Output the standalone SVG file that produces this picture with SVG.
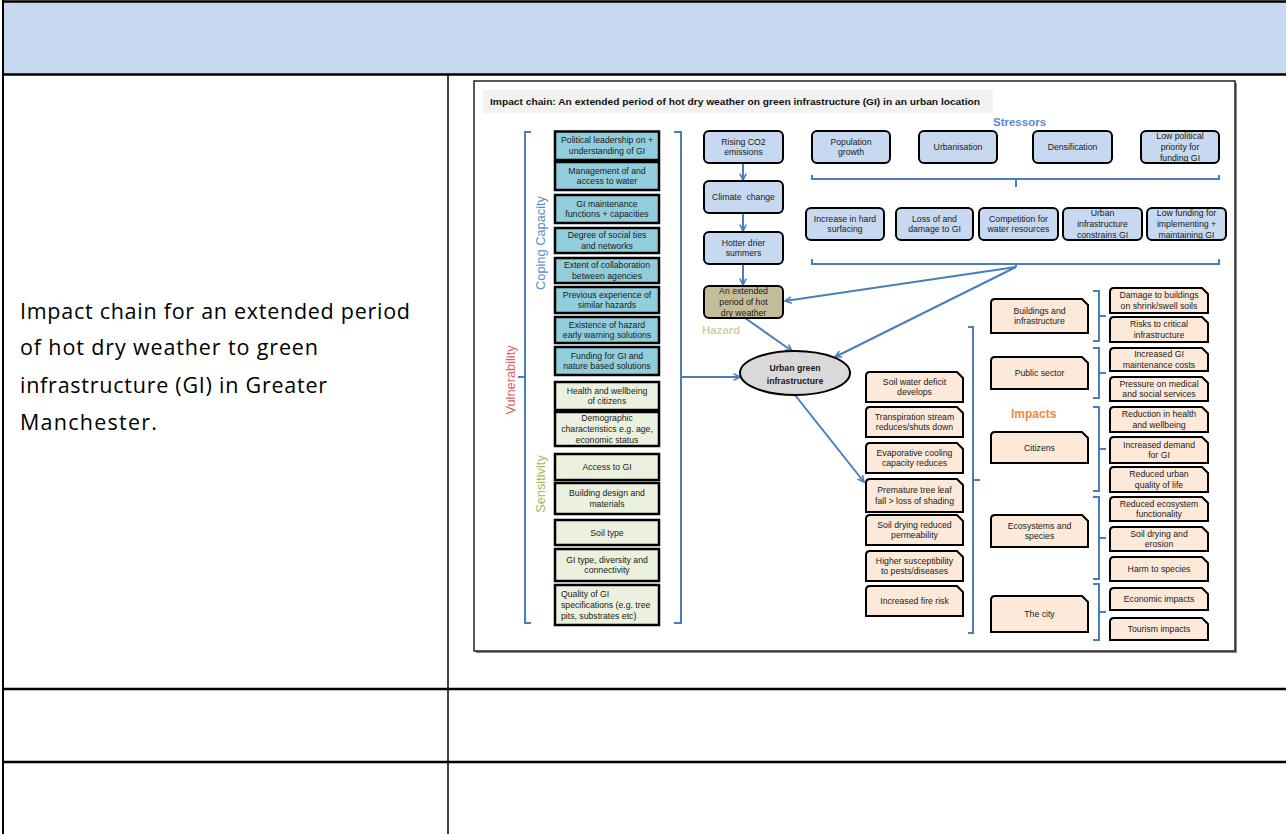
<svg xmlns="http://www.w3.org/2000/svg" width="1286" height="834" viewBox="0 0 1286 834">
<defs>
<style>
.tl{stroke:#000;fill:none}
.cc{fill:#92CDDC;stroke:#000;stroke-width:2.5}
.sn{fill:#EBF1DE;stroke:#000;stroke-width:2.5}
.bl{fill:#C6D9F0;stroke:#000;stroke-width:2}
.hz{fill:#C4BD97;stroke:#000;stroke-width:2}
.pe{fill:#FDE9D9;stroke:#000;stroke-width:2}
.t{font-family:"Liberation Sans",Arial,sans-serif;font-size:8.7px;fill:#1a1a1a;text-anchor:middle}
.tlft{text-anchor:start}
.conn{stroke:#4A7EBB;stroke-width:2;fill:none}
.lab{font-family:"Liberation Sans",Arial,sans-serif;font-weight:bold}
.side{font-family:"Liberation Sans",Arial,sans-serif;text-anchor:middle;font-size:12.8px}
</style>
<marker id="arr" viewBox="0 0 10 10" refX="9" refY="5" markerWidth="8" markerHeight="8" markerUnits="userSpaceOnUse" orient="auto">
<path d="M1,1 L9,5 L1,9" fill="none" stroke="#4A7EBB" stroke-width="2"/>
</marker>
</defs>

<g id="table">
<rect x="3" y="2" width="1283" height="72" fill="#C6D9F0"/>
<path class="tl" stroke-width="2.5" d="M2,1.5 H1286 M2,74.5 H1286 M2,689 H1286 M2,762 H1286"/>
<path class="tl" stroke-width="2" d="M3,0 V834"/>
<path class="tl" stroke-width="1.5" d="M448,75 V834"/>
</g>

<g id="caption" font-family="'Open Sans','Liberation Sans',sans-serif" font-size="21.5" fill="#000">
<text x="20" y="319" textLength="390" lengthAdjust="spacing">Impact chain for an extended period</text>
<text x="20" y="355" textLength="298" lengthAdjust="spacing">of hot dry weather to green</text>
<text x="20" y="393" textLength="307" lengthAdjust="spacing">infrastructure (GI) in Greater</text>
<text x="20" y="430" textLength="137" lengthAdjust="spacing">Manchester.</text>
</g>

<g id="frame">
<rect x="476" y="83" width="761" height="570" fill="#888"/>
<rect x="474" y="81" width="761" height="570" fill="#fff" stroke="#222" stroke-width="1.5"/>
<rect x="483" y="90" width="510" height="23" fill="#F2F2F2"/>
<text class="lab" x="490" y="105" font-size="9.5" fill="#111" textLength="490" lengthAdjust="spacingAndGlyphs">Impact chain: An extended period of hot dry weather on green infrastructure (GI) in an urban location</text>
</g>

<g id="labels">
<text class="lab" x="993" y="126" font-size="11.5" fill="#5B8CC9">Stressors</text>
<text class="lab" x="1011" y="418" font-size="12" fill="#F0883E">Impacts</text>
<text class="lab" x="702" y="334" font-size="11.5" fill="#D8CFA8">Hazard</text>
<text class="side" transform="translate(515,380) rotate(-90)" fill="#D9605C" font-size="13">Vulnerability</text>
<text class="side" transform="translate(545,243) rotate(-90)" fill="#5B8CC9">Coping Capacity</text>
<text class="side" transform="translate(545,484) rotate(-90)" fill="#9BBB59">Sensitivity</text>
</g>

<g id="connectors">
<path class="conn" d="M531,132 H525 V623 H531 M525,377 H518"/>
<path class="conn" d="M674,132 H681 V623 H674"/>
<path class="conn" marker-end="url(#arr)" d="M681,377 H740"/>
<path class="conn" d="M812,175 V179 H1219 V175 M1016,179 V187"/>
<path class="conn" d="M812,259 V264 H1219 V259 M1016,264 V267"/>
<path class="conn" marker-end="url(#arr)" d="M1016,267 L785,301"/>
<path class="conn" marker-end="url(#arr)" d="M1016,267 L835,357"/>
<path class="conn" marker-end="url(#arr)" d="M743,163 V180"/>
<path class="conn" marker-end="url(#arr)" d="M743,213 V231"/>
<path class="conn" marker-end="url(#arr)" d="M743,264 V285"/>
<path class="conn" marker-end="url(#arr)" d="M745,318 L792,351"/>
<path class="conn" marker-end="url(#arr)" d="M795,395 L864,482"/>
<path class="conn" d="M968,327 H973 V633 H968 M973,480 H980"/>
<path class="conn" d="M1093,291 H1099 V341 H1093 M1099,316 H1106"/>
<path class="conn" d="M1093,348 H1099 V398 H1093 M1099,373 H1106"/>
<path class="conn" d="M1093,407 H1099 V491 H1093 M1099,449 H1106"/>
<path class="conn" d="M1093,497 H1099 V579 H1093 M1099,538 H1106"/>
<path class="conn" d="M1093,584 H1099 V640 H1093 M1099,612 H1106"/>
</g>

<g id="coping">
<g id="c1"><rect class="cc" x="555" y="131.5" width="104" height="28.5"/><text class="t"><tspan x="607" y="143.4">Political leadership on +</tspan><tspan x="607" y="154.2">understanding of GI</tspan></text></g>
<g id="c2"><rect class="cc" x="555" y="162" width="104" height="28"/><text class="t"><tspan x="607" y="173.6">Management of and</tspan><tspan x="607" y="184.4">access to water</tspan></text></g>
<g id="c3"><rect class="cc" x="555" y="195" width="104" height="28"/><text class="t"><tspan x="607" y="206.6">GI maintenance</tspan><tspan x="607" y="217.4">functions + capacities</tspan></text></g>
<g id="c4"><rect class="cc" x="555" y="228" width="104" height="25"/><text class="t"><tspan x="607" y="238.1">Degree of social ties</tspan><tspan x="607" y="248.9">and networks</tspan></text></g>
<g id="c5"><rect class="cc" x="555" y="258" width="104" height="25"/><text class="t"><tspan x="607" y="268.1">Extent of collaboration</tspan><tspan x="607" y="278.9">between agencies</tspan></text></g>
<g id="c6"><rect class="cc" x="555" y="287" width="104" height="26"/><text class="t"><tspan x="607" y="297.6">Previous experience of</tspan><tspan x="607" y="308.4">similar hazards</tspan></text></g>
<g id="c7"><rect class="cc" x="555" y="317" width="104" height="26"/><text class="t"><tspan x="607" y="327.6">Existence of hazard</tspan><tspan x="607" y="338.4">early warning solutions</tspan></text></g>
<g id="c8"><rect class="cc" x="555" y="347" width="104" height="28"/><text class="t"><tspan x="607" y="358.6">Funding for GI and</tspan><tspan x="607" y="369.4">nature based solutions</tspan></text></g>
</g>

<g id="sensitivity">
<g id="s1"><rect class="sn" x="555" y="382" width="104" height="28"/><text class="t"><tspan x="607" y="393.6">Health and wellbeing</tspan><tspan x="607" y="404.4">of citizens</tspan></text></g>
<g id="s2"><rect class="sn" x="555" y="412" width="104" height="34"/><text class="t"><tspan x="607" y="421.2">Demographic</tspan><tspan x="607" y="432">characteristics e.g. age,</tspan><tspan x="607" y="442.8">economic status</tspan></text></g>
<g id="s3"><rect class="sn" x="555" y="454" width="104" height="26"/><text class="t" x="607" y="470">Access to GI</text></g>
<g id="s4"><rect class="sn" x="555" y="483" width="104" height="31"/><text class="t"><tspan x="607" y="496.1">Building design and</tspan><tspan x="607" y="506.9">materials</tspan></text></g>
<g id="s5"><rect class="sn" x="555" y="520" width="104" height="25"/><text class="t" x="607" y="535.5">Soil type</text></g>
<g id="s6"><rect class="sn" x="555" y="549" width="104" height="32"/><text class="t"><tspan x="607" y="562.6">GI type, diversity and</tspan><tspan x="607" y="573.4">connectivity</tspan></text></g>
<g id="s7"><rect class="sn" x="555" y="585" width="104" height="40"/><text class="t tlft"><tspan x="561" y="597.2">Quality of GI</tspan><tspan x="561" y="608">specifications (e.g. tree</tspan><tspan x="561" y="618.8">pits, substrates etc)</tspan></text></g>
</g>

<g id="climate">
<g id="cl1"><rect class="bl" x="704" y="131" width="79" height="32" rx="5"/><text class="t"><tspan x="743.5" y="144.6">Rising CO2</tspan><tspan x="743.5" y="155.4">emissions</tspan></text></g>
<g id="cl2"><rect class="bl" x="704" y="181" width="79" height="32" rx="5"/><text class="t" x="743.5" y="200" style="white-space:pre">Climate  change</text></g>
<g id="cl3"><rect class="bl" x="704" y="232" width="79" height="32" rx="5"/><text class="t"><tspan x="743.5" y="245.6">Hotter drier</tspan><tspan x="743.5" y="256.4">summers</tspan></text></g>
<g id="hazard"><rect class="hz" x="704" y="286" width="79" height="32" rx="5"/><text class="t"><tspan x="743.5" y="294.2">An extended</tspan><tspan x="743.5" y="305">period of hot</tspan><tspan x="743.5" y="315.8">dry weather</tspan></text></g>
</g>

<g id="ugi"><ellipse cx="795" cy="373" rx="55" ry="22" fill="#D9D9D9" stroke="#000" stroke-width="2"/><text class="t lab" font-size="10"><tspan x="795" y="371">Urban green</tspan><tspan x="795" y="384">infrastructure</tspan></text></g>

<g id="stressors">
<g id="st1"><rect class="bl" x="812" y="131" width="78" height="32" rx="5"/><text class="t"><tspan x="851" y="144.6">Population</tspan><tspan x="851" y="155.4">growth</tspan></text></g>
<g id="st2"><rect class="bl" x="919" y="131" width="78" height="32" rx="5"/><text class="t" x="958" y="150">Urbanisation</text></g>
<g id="st3"><rect class="bl" x="1033" y="131" width="79" height="32" rx="5"/><text class="t" x="1072.5" y="150">Densification</text></g>
<g id="st4"><rect class="bl" x="1141" y="131" width="78" height="32" rx="5"/><text class="t"><tspan x="1180" y="139.2">Low political</tspan><tspan x="1180" y="150">priority for</tspan><tspan x="1180" y="160.8">funding GI</tspan></text></g>
<g id="st5"><rect class="bl" x="806" y="208" width="78" height="32" rx="5"/><text class="t"><tspan x="845" y="221.6">Increase in hard</tspan><tspan x="845" y="232.4">surfacing</tspan></text></g>
<g id="st6"><rect class="bl" x="896" y="208" width="77" height="32" rx="5"/><text class="t"><tspan x="934.5" y="221.6">Loss of and</tspan><tspan x="934.5" y="232.4">damage to GI</tspan></text></g>
<g id="st7"><rect class="bl" x="979" y="208" width="79" height="32" rx="5"/><text class="t"><tspan x="1018.5" y="221.6">Competition for</tspan><tspan x="1018.5" y="232.4">water resources</tspan></text></g>
<g id="st8"><rect class="bl" x="1063" y="208" width="79" height="32" rx="5"/><text class="t"><tspan x="1102.5" y="216.2">Urban</tspan><tspan x="1102.5" y="227">infrastructure</tspan><tspan x="1102.5" y="237.8">constrains GI</tspan></text></g>
<g id="st9"><rect class="bl" x="1147" y="208" width="79" height="32" rx="5"/><text class="t"><tspan x="1186.5" y="216.2">Low funding for</tspan><tspan x="1186.5" y="227">implementing +</tspan><tspan x="1186.5" y="237.8">maintaining GI</tspan></text></g>
</g>

<g id="effects">
<g id="i1"><path class="pe" d="M870,372 H957 L963,378 V402 H866 V376 Q866,372 870,372 Z"/><text class="t"><tspan x="914.5" y="384.6">Soil water deficit</tspan><tspan x="914.5" y="395.4">develops</tspan></text></g>
<g id="i2"><path class="pe" d="M870,407 H957 L963,413 V437 H866 V411 Q866,407 870,407 Z"/><text class="t"><tspan x="914.5" y="419.6">Transpiration stream</tspan><tspan x="914.5" y="430.4">reduces/shuts down</tspan></text></g>
<g id="i3"><path class="pe" d="M870,443 H957 L963,449 V473 H866 V447 Q866,443 870,443 Z"/><text class="t"><tspan x="914.5" y="455.6">Evaporative cooling</tspan><tspan x="914.5" y="466.4">capacity reduces</tspan></text></g>
<g id="i4"><path class="pe" d="M870,479 H957 L963,485 V512 H866 V483 Q866,479 870,479 Z"/><text class="t"><tspan x="914.5" y="493.1">Premature tree leaf</tspan><tspan x="914.5" y="503.9">fall &gt; loss of shading</tspan></text></g>
<g id="i5"><path class="pe" d="M870,515 H957 L963,521 V545 H866 V519 Q866,515 870,515 Z"/><text class="t"><tspan x="914.5" y="527.6">Soil drying reduced</tspan><tspan x="914.5" y="538.4">permeability</tspan></text></g>
<g id="i6"><path class="pe" d="M870,551 H957 L963,557 V581 H866 V555 Q866,551 870,551 Z"/><text class="t"><tspan x="914.5" y="563.6">Higher susceptibility</tspan><tspan x="914.5" y="574.4">to pests/diseases</tspan></text></g>
<g id="i7"><path class="pe" d="M870,586 H957 L963,592 V616 H866 V590 Q866,586 870,586 Z"/><text class="t" x="914.5" y="604">Increased fire risk</text></g>
</g>

<g id="categories">
<g id="k1"><path class="pe" d="M995,299 H1082 L1088,305 V333 H991 V303 Q991,299 995,299 Z"/><text class="t"><tspan x="1039.5" y="313.6">Buildings and</tspan><tspan x="1039.5" y="324.4">infrastructure</tspan></text></g>
<g id="k2"><path class="pe" d="M995,357 H1082 L1088,363 V389 H991 V361 Q991,357 995,357 Z"/><text class="t" x="1039.5" y="376">Public sector</text></g>
<g id="k3"><path class="pe" d="M995,432 H1082 L1088,438 V463 H991 V436 Q991,432 995,432 Z"/><text class="t" x="1039.5" y="450.5">Citizens</text></g>
<g id="k4"><path class="pe" d="M995,515 H1082 L1088,521 V547 H991 V519 Q991,515 995,515 Z"/><text class="t"><tspan x="1039.5" y="528.6">Ecosystems and</tspan><tspan x="1039.5" y="539.4">species</tspan></text></g>
<g id="k5"><path class="pe" d="M995,596 H1082 L1088,602 V632 H991 V600 Q991,596 995,596 Z"/><text class="t" x="1039.5" y="617">The city</text></g>
</g>

<g id="impacts">
<g id="r1"><path class="pe" d="M1114,288 H1202 L1208,294 V313 H1110 V292 Q1110,288 1114,288 Z"/><text class="t"><tspan x="1159" y="298.1">Damage to buildings</tspan><tspan x="1159" y="308.9">on shrink/swell soils</tspan></text></g>
<g id="r2"><path class="pe" d="M1114,317 H1202 L1208,323 V342 H1110 V321 Q1110,317 1114,317 Z"/><text class="t"><tspan x="1159" y="327.1">Risks to critical</tspan><tspan x="1159" y="337.9">infrastructure</tspan></text></g>
<g id="r3"><path class="pe" d="M1114,348 H1202 L1208,354 V371 H1110 V352 Q1110,348 1114,348 Z"/><text class="t"><tspan x="1159" y="357.1">Increased GI</tspan><tspan x="1159" y="367.9">maintenance costs</tspan></text></g>
<g id="r4"><path class="pe" d="M1114,377 H1202 L1208,383 V401 H1110 V381 Q1110,377 1114,377 Z"/><text class="t"><tspan x="1159" y="386.6">Pressure on medical</tspan><tspan x="1159" y="397.4">and social services</tspan></text></g>
<g id="r5"><path class="pe" d="M1114,407 H1202 L1208,413 V432 H1110 V411 Q1110,407 1114,407 Z"/><text class="t"><tspan x="1159" y="417.1">Reduction in health</tspan><tspan x="1159" y="427.9">and wellbeing</tspan></text></g>
<g id="r6"><path class="pe" d="M1114,437 H1202 L1208,443 V463 H1110 V441 Q1110,437 1114,437 Z"/><text class="t"><tspan x="1159" y="447.6">Increased demand</tspan><tspan x="1159" y="458.4">for GI</tspan></text></g>
<g id="r7"><path class="pe" d="M1114,467 H1202 L1208,473 V492 H1110 V471 Q1110,467 1114,467 Z"/><text class="t"><tspan x="1159" y="477.1">Reduced urban</tspan><tspan x="1159" y="487.9">quality of life</tspan></text></g>
<g id="r8"><path class="pe" d="M1114,497 H1202 L1208,503 V521 H1110 V501 Q1110,497 1114,497 Z"/><text class="t"><tspan x="1159" y="506.6">Reduced ecosystem</tspan><tspan x="1159" y="517.4">functionality</tspan></text></g>
<g id="r9"><path class="pe" d="M1114,527 H1202 L1208,533 V551 H1110 V531 Q1110,527 1114,527 Z"/><text class="t"><tspan x="1159" y="536.6">Soil drying and</tspan><tspan x="1159" y="547.4">erosion</tspan></text></g>
<g id="r10"><path class="pe" d="M1114,557 H1202 L1208,563 V581 H1110 V561 Q1110,557 1114,557 Z"/><text class="t" x="1159" y="572">Harm to species</text></g>
<g id="r11"><path class="pe" d="M1114,588 H1202 L1208,594 V610 H1110 V592 Q1110,588 1114,588 Z"/><text class="t" x="1159" y="602">Economic impacts</text></g>
<g id="r12"><path class="pe" d="M1114,618 H1202 L1208,624 V640 H1110 V622 Q1110,618 1114,618 Z"/><text class="t" x="1159" y="632">Tourism impacts</text></g>
</g>
</svg>
